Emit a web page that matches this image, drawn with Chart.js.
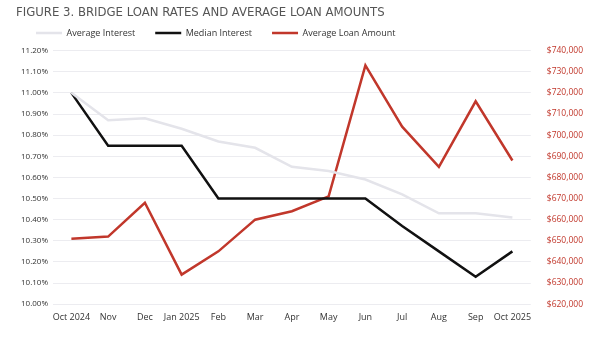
<!DOCTYPE html>
<html>
<head>
<meta charset="utf-8">
<script src="https://cdn.jsdelivr.net/npm/chart.js@4"></script>
<style>
  html, body { margin: 0; padding: 0; background: #fff; }
  #wrap { width: 594px; height: 345px; position: relative; }
</style>
</head>
<body>
<div id="wrap"><canvas id="loanChart"></canvas></div>
<script>
const months = ['Oct 2024', 'Nov', 'Dec', 'Jan 2025', 'Feb', 'Mar', 'Apr', 'May', 'Jun', 'Jul', 'Aug', 'Sep', 'Oct 2025'];
const avgInterest = [11.00, 10.87, 10.88, 10.83, 10.77, 10.74, 10.65, 10.63, 10.59, 10.52, 10.43, 10.43, 10.41];
const medianInterest = [11.00, 10.75, 10.75, 10.75, 10.50, 10.50, 10.50, 10.50, 10.50, 10.37, 10.25, 10.13, 10.25];
const avgLoanAmount = [651000, 652000, 668000, 634000, 645000, 660000, 664000, 671000, 733000, 704000, 685000, 716000, 688000];

const red = '#c1372b';

const data = {
  labels: months,
  datasets: [
    { label: 'Average Interest', data: avgInterest, borderColor: '#e4e4ea', backgroundColor: '#e4e4ea', borderWidth: 2.5, yAxisID: 'y' },
    { label: 'Median Interest', data: medianInterest, borderColor: '#111', backgroundColor: '#111', borderWidth: 2.5, yAxisID: 'y' },
    { label: 'Average Loan Amount', data: avgLoanAmount, borderColor: red, backgroundColor: red, borderWidth: 2.5, yAxisID: 'y1' }
  ]
};

// a bit more room under the legend
const legendGap = {
  id: 'legendGap',
  beforeInit(chart) {
    const fit = chart.legend.fit;
    chart.legend.fit = function () {
      fit.call(this);
      this.height += 3;
    };
  }
};

const options = {
  responsive: true,
  maintainAspectRatio: false,
  animation: false,
  layout: { padding: { left: 16, right: 3, top: 0, bottom: 22 } },
  elements: { point: { radius: 0 }, line: { tension: 0 } },
  scales: {
    x: {
      offset: true,
      grid: { display: false },
      border: { display: false },
      ticks: { color: '#333', font: { family: 'Open Sans', size: 9 }, maxRotation: 0, autoSkip: false, padding: 0 }
    },
    y: {
      position: 'left',
      min: 10.0, max: 11.2,
      grid: { color: '#ececf0', lineWidth: 1, drawTicks: false },
      border: { display: false },
      ticks: { stepSize: 0.1, color: '#333', font: { family: 'Open Sans', size: 8 }, padding: 5,
        callback: v => v.toFixed(2) + '%' }
    },
    y1: {
      position: 'right',
      min: 620000, max: 740000,
      grid: { display: false },
      border: { display: false },
      ticks: { stepSize: 10000, color: red, font: { family: 'Open Sans', size: 8.5 }, padding: 8,
        callback: v => '$' + v.toLocaleString('en-US') }
    }
  },
  plugins: {
    title: {
      display: true,
      text: 'FIGURE 3. BRIDGE LOAN RATES AND AVERAGE LOAN AMOUNTS',
      align: 'start',
      color: '#555',
      font: { family: "'DejaVu Sans Condensed', 'Roboto Condensed', 'Liberation Sans Narrow', sans-serif", size: 13, weight: 'normal' },
      padding: { top: 5, bottom: -12 }
    },
    legend: {
      align: 'start',
      labels: {
        usePointStyle: true,
        pointStyle: 'line',
        pointStyleWidth: 26,
        boxWidth: 26,
        color: '#333',
        font: { family: 'Open Sans', size: 9 },
        padding: 20
      }
    },
    tooltip: { enabled: false }
  }
};

const ctx = document.getElementById('loanChart').getContext('2d');
new Chart(ctx, { type: 'line', data: data, options: options, plugins: [legendGap] });
</script>
</body>
</html>
